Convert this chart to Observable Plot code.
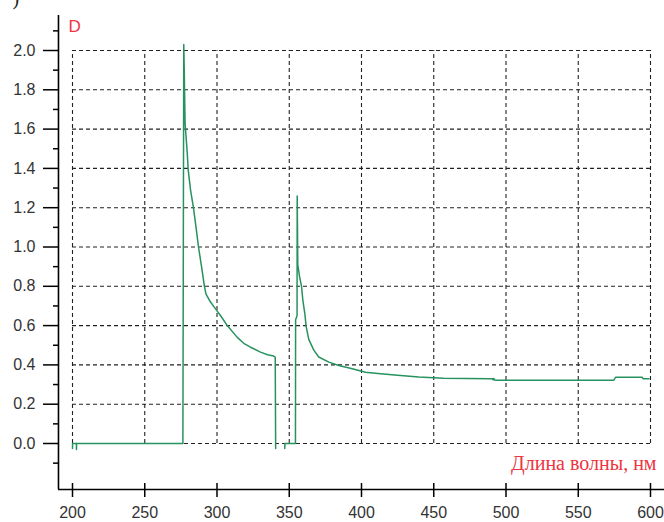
<!DOCTYPE html>
<html>
<head>
<meta charset="utf-8">
<script src="https://cdn.jsdelivr.net/npm/d3@7"></script>
<script src="https://cdn.jsdelivr.net/npm/@observablehq/plot@0.6"></script>
<style>
  html, body { margin: 0; padding: 0; background: #fff; }
</style>
</head>
<body>
<script>
// Wavelength, nm
const wavelength = [200.0, 200.05, 202.7, 202.75, 202.8, 276.4, 277.0, 277.4, 277.9, 279.4, 280.1, 281.7, 283.7, 285.5, 287.2, 289.3, 291.3, 292.4, 295.5, 299.0, 303.0, 307.1, 314.0, 318.5, 323.2, 330.1, 335.0, 339.2, 340.3, 340.6, 343.5, 346.9, 347.0, 354.3, 354.4, 355.4, 355.5, 355.7, 355.9, 357.1, 358.5, 359.4, 360.8, 361.7, 363.5, 367.0, 370.4, 377.4, 384.3, 393.6, 402.8, 413.1, 427.0, 439.6, 456.7, 489.3, 490.5, 491.0, 491.5, 492.0, 493.0, 574.6, 575.8, 594.2, 595.0, 599.0];
// Optical density D (null = gap in the record)
const density = [-0.025, 0, 0, -0.03, 0, 0, 2.03, 1.87, 1.63, 1.48, 1.39, 1.29, 1.2, 1.1, 1.0, 0.9, 0.80, 0.76, 0.72, 0.685, 0.645, 0.60, 0.54, 0.51, 0.49, 0.465, 0.452, 0.445, 0.44, -0.025, null, -0.025, 0, 0, 0.63, 0.65, 1.26, 1.10, 0.91, 0.85, 0.80, 0.73, 0.66, 0.595, 0.53, 0.475, 0.44, 0.414, 0.397, 0.38, 0.363, 0.355, 0.346, 0.338, 0.332, 0.329, 0.33, 0.324, 0.331, 0.324, 0.322, 0.322, 0.337, 0.337, 0.329, 0.329];

const xTicks = [200, 250, 300, 350, 400, 450, 500, 550, 600];
const yTicks = [0, 0.2, 0.4, 0.6, 0.8, 1.0, 1.2, 1.4, 1.6, 1.8, 2.0];
const yMinorTicks = [-0.1, 0.1, 0.3, 0.5, 0.7, 0.9, 1.1, 1.3, 1.5, 1.7, 1.9, 2.1];
const yLabel = "D";
const xLabel = "Длина волны, нм";
const panelMark = ")";

const data = wavelength.map((w, i) => ({w, d: density[i]}));

const red = "#ee3440";
const dash = "4,3";
// axis frame extents (data units), slightly beyond the grid
const xAxisStart = 190.3, xAxisEnd = 609.7;
const yAxisBottom = -0.234, yAxisTop = 2.178;

const chart = Plot.plot({
  width: 664,
  height: 522,
  marginLeft: 72,
  marginRight: 14,
  marginTop: 50,
  marginBottom: 79,
  x: {domain: [200, 600]},
  y: {domain: [0, 2]},
  style: {background: "#fff", fontFamily: "'Liberation Sans', Arial, sans-serif", fontSize: "16px", color: "#222"},
  marks: [
    // dashed grid
    Plot.ruleY(yTicks, {x1: 200, x2: 600, stroke: "#222", strokeWidth: 1.1, strokeDasharray: dash}),
    Plot.ruleX(xTicks, {y1: 0, y2: 2, stroke: "#222", strokeWidth: 1.1, strokeDasharray: dash}),
    // axis lines
    Plot.ruleX([xAxisStart], {y1: yAxisBottom, y2: yAxisTop, stroke: "#000", strokeWidth: 1.6}),
    Plot.ruleY([yAxisBottom], {x1: xAxisStart, x2: xAxisEnd, stroke: "#000", strokeWidth: 1.6}),
    // y axis ticks
    Plot.axisY({ticks: yTicks, tickSize: 15, dx: -14, tickPadding: 8, tickFormat: d3.format(".1f"), label: null, stroke: "#000", strokeWidth: 1.5, fill: "#333"}),
    Plot.axisY({ticks: yMinorTicks, tickSize: 5, dx: -14, tickFormat: () => "", label: null, stroke: "#000", strokeWidth: 1.5}),
    // x axis ticks
    Plot.axisX({ticks: xTicks, tickSize: 14, dy: 40, tickPadding: 9, tickFormat: d3.format("d"), label: null, stroke: "#000", strokeWidth: 1.5, fill: "#333"}),
    // spectrum
    Plot.line(data, {x: "w", y: "d", stroke: "#279260", strokeWidth: 1.5}),
    // labels
    Plot.text([yLabel], {frameAnchor: "top-left", dx: -4, dy: -19, textAnchor: "start", lineAnchor: "bottom", fill: red, fontSize: 17, fontFamily: "'Liberation Sans', Arial, sans-serif"}),
    Plot.text([xLabel], {frameAnchor: "bottom-right", dx: 6, dy: 26, textAnchor: "end", lineAnchor: "bottom", fill: red, fontSize: 20, fontFamily: "'Liberation Serif', 'Times New Roman', serif"}),
    Plot.text([panelMark], {frameAnchor: "top-left", dx: -60, dy: -46, textAnchor: "start", lineAnchor: "bottom", fill: "#222", fontSize: 20, fontFamily: "'Liberation Serif', serif"})
  ]
});
document.body.appendChild(chart);
</script>
</body>
</html>
